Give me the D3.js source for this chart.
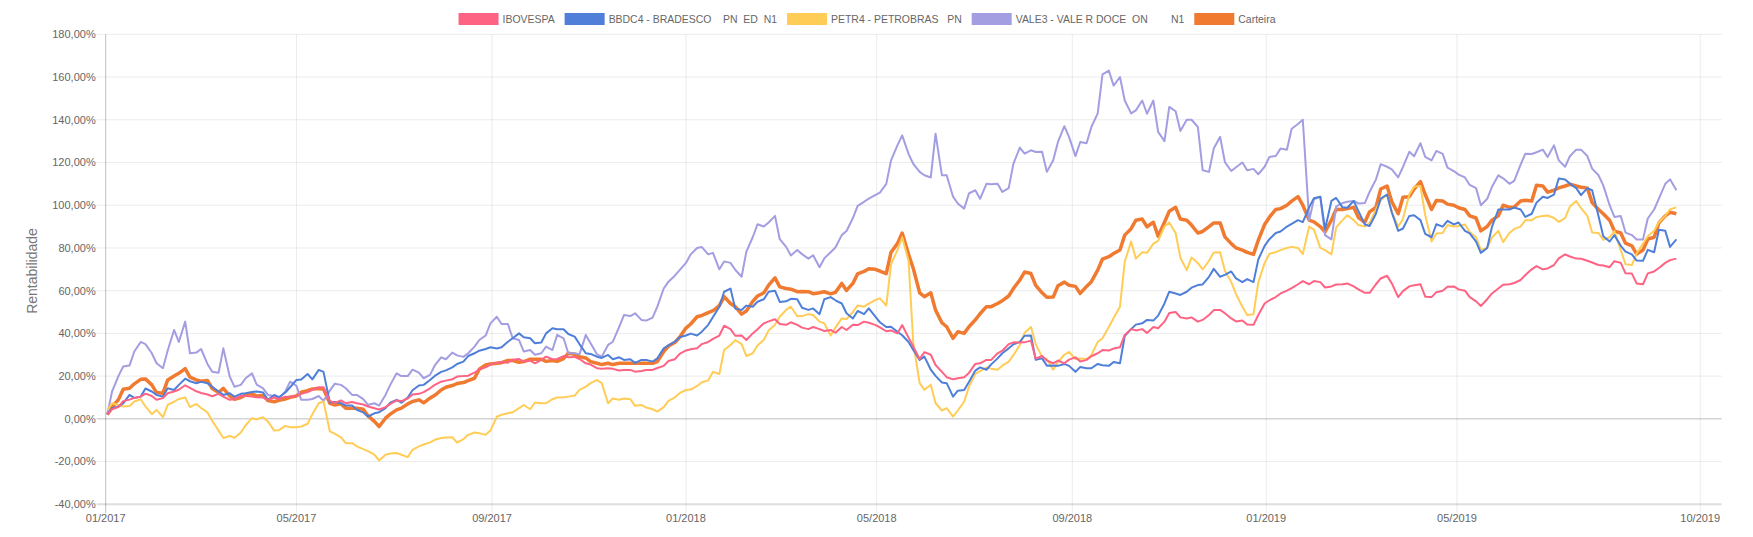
<!DOCTYPE html>
<html>
<head>
<meta charset="utf-8">
<script src="https://cdn.jsdelivr.net/npm/d3@7"></script>
<style>
  body { margin: 0; background: #fff; }
  text { font-family: "Helvetica Neue", Helvetica, Arial, "Liberation Sans", sans-serif; }
</style>
</head>
<body>
<svg id="chart" width="1753" height="537"></svg>
<script>
// two readings per week: Mondays (first on 02/01/2017) and the Thursday after
var startDate = new Date(2017, 0, 2);

var seriesNames = ["IBOVESPA", "BBDC4 - BRADESCO    PN  ED  N1", "PETR4 - PETROBRAS   PN", "VALE3 - VALE R DOCE  ON        N1", "Carteira"];
var seriesColors = ["#ff6384", "#4f7fd9", "#ffcd56", "#a39ee2", "#ef7a30"];

var ibovespaMon = [2,5.5,9,10.4,10.7,9.7,12.8,15.7,12.9,11.4,11.7,8.9,10.7,10.4,10,10,10.4,10.7,12.5,14.8,
  8.4,8.6,7.9,6.7,5,5.5,8.6,9.5,11.7,14.3,17.4,18.5,20,21.6,24.1,26.3,26.3,28,27.3,27.6,
  27.9,29.4,29,26,23.7,23.7,22.6,22.9,22.4,22.9,24.8,27.9,32,33,36,39,42,39,40,44.7,
  46.6,44,44,42,42,41.6,43,44,45.5,44,41,40,38,28,30,22,18.5,19.5,25.7,27.6,
  30.7,35,35.7,36.6,29.4,26,26,28.8,27.6,30.7,32,33.5,42,42,43,45.5,50,47,45.5,48.6,
  51,47,46,44,54,57,60,63,63,64,62,63,62,59,63,67,57,62,63,57,
  60,62,60,55,56,61,63,65,70,70,72,77,75,74,72,71,73,68,63,69,73,75];
var ibovespaThu = [4.5,8.3,9.8,11.8,8.9,12,13.6,14.5,12.1,10.6,10.4,9.3,10.7,10.1,8.9,9.3,10.3,11.7,13.6,14.8,
  7.5,7.3,7.3,5.8,4.4,7,8.3,11.4,12.5,15.9,17.9,19.8,20.2,23.2,25.4,26.6,27.7,26.8,26,29.1,
  28,28.8,28,25.4,23.4,23.4,22.9,22.1,22.9,23.8,27.1,30.4,
  32.6,35,37.4,43.6,38.9,36.9,41.9,45.6,44.4,45.2,42.7,43,41.1,40.3,41.6,43.9,45,42.8,41.4,43.9,
  33.8,31.2,25.2,19.5,19,21.5,26,27.6,31.9,35.8,35.8,28.2,27.3,27.3,27.7,26.8,29.3,32.2,32.9,39.3,
  41.4,40.2,42.4,49.5,47.5,47.5,46.3,50.9,49.4,45.6,44.2,
  48.6,55.5,58.7,61.2,64.5,64.5,61.5,62.9,63.4,60.6,59,65.7,63.4,59.8,62.5,57.2,59.3,61.8,60.6,57,
  52.8,58.7,62.8,63.6,67.3,71.5,70.4,75.1,76,74.9,73.2,71.8,73.8,68.1,63.4,68.1,70.6,74.3];

var bbdc4Mon = [2,5.8,11.2,10.4,12.8,10.4,13.5,18.8,16.7,16.7,12.8,12,11.7,12.6,12.3,11.2,12.3,18.2,21,22.9,
  7.6,7.3,6.2,3,2.6,5,8.9,10,15.6,18.2,22,24.1,26.8,30.7,32.7,32.9,36.1,40,37.7,35.7,
  42.4,41.9,38.5,30.7,29.1,29.9,28.8,27.9,27.6,26.8,33,36.1,39,39,44,52.5,61,51,52.5,56,
  60,55,56,51,49,57,54,47,49,48,43,40.8,36,27.6,23,17,10.4,13.5,22.6,23,
  28.3,33,36,39,28.3,25,25.7,22,23.7,25.7,24.8,26,42,44.7,46,54,58.7,59.5,62.6,66.5,
  66.5,69,64,64,81,87,90,93,99,104,102,99,102,91,96,105,88,95,93,85,
  90,91,88,83,80,98,98,98,96,104,105,112,108,108,95,83,81,77,74,78,88,84];
var bbdc4Thu = [5,7.2,9.8,14.2,11.2,14.3,15.9,17.6,17.3,15,11.2,10.4,12,12.8,8.9,10.1,14.8,18.4,18.5,22,
  7.9,6.2,4.2,1.1,3.1,7.6,7.6,13.4,15.9,20.1,22.7,25.7,29.4,31.9,33.5,33.5,37.7,38.2,35.4,40,
  41.9,39.7,35,30.4,28.5,27.9,27.6,26.2,27.6,28.3,34.4,38.2,
  39.9,40.8,47.7,59.5,51.6,53,54.8,59.5,54.7,56.2,52,51.7,56,55.5,49.4,50.5,51.7,45.2,43.1,39.1,
  32.2,29.1,20.1,16.7,13.2,17.3,24.1,25.5,30.7,34.9,38.9,27.6,24.9,24.8,24.8,24.3,23.7,25.1,26.6,38.8,
  44.1,46.3,48.3,59.5,58,61.4,62.9,70.2,67.4,65.7,65.4,
  74.6,84.1,87.7,91.3,92.1,103.3,88.8,103.4,98.8,97.2,90.3,103.1,96.6,89.1,95.3,86.6,91.1,92.7,91.9,86.8,
  77.7,89.9,98,98.9,94.5,101.2,103.4,112.5,110.1,104.7,107,85.5,86,78.3,74.1,79.1,88.5,80.5];

var petr4Mon = [4,6.5,6,9.2,2.2,0.8,8,10,7,3,-5.5,-8,-6.4,0.3,0.8,-5.5,-3.3,-3.9,-2.3,7.3,
  -5.9,-8.7,-11.4,-14.2,-16.8,-16.8,-16,-17.9,-12.9,-11,-9,-8.6,-9.5,-6.4,-7.5,1,2.6,5,4.5,7.3,
  9.2,10.1,10.9,15.1,18.2,7.3,8.9,9.2,6.5,4.5,5.5,10,13.5,15.4,18,21,34.6,35,30.7,37,
  44,51,48,49,45.5,39,47,50,52.5,55.6,53,79,74,16.7,16,3.9,1,8,21,24,
  23,26.8,34.6,43,29,23,30,28,28,36,43,52.5,83,78,82,90,87,69.6,73,74,
  78,64,52.5,49,73,78,80,80,90,80,77,93,93,90,98,105,90,105,109,83,
  87,90,91,85,80,88,87,90,93,95,94,94,102,95,87,85,79,72,82,88,95,99];
var petr4Thu = [7.3,5.8,8.1,5.8,4.2,6.5,9.3,5.5,5.1,-0.9,-9,-8.9,-3,-0.2,-1.2,-5.3,-3.9,-3.6,2.2,8.1,
  -6.9,-11.4,-12.9,-15.1,-19.5,-16.2,-16.8,-14.5,-12,-9.8,-8.7,-11.1,-7.5,-6.7,-5.5,1.9,3.1,6.5,7.6,7.3,
  10,10.4,13.6,16.7,16.7,9.5,9.5,6.1,5.3,3.4,8.4,12,
  13.7,17.1,22,32.2,36.8,29.4,34.3,41.4,47.8,52.5,48.1,48.6,44.7,42.7,46.7,53.1,53.9,56.4,72.4,85,
  35.4,13.6,7.3,5,3.9,15.1,22.3,23.5,24.9,29.8,40.3,35,27.9,26.6,31.3,28.2,29.8,37.7,47.2,73.5,
  75,77.7,83.3,91.9,75.4,75.5,69.9,77.9,69.3,58.4,48.6,
  63.9,77.3,79,80.5,77.1,88.6,79,89.6,95.3,90.7,91.7,102.3,96.9,93.5,108.7,95.3,86.8,90.7,90.3,87.5,
  79.1,84.9,82.7,88.9,93,94.4,95.2,92.2,99.4,98.6,87.2,83.8,87.9,72.4,77.4,85.5,92,98.1];

var vale3Mon = [2,20,25,36,30.7,23.7,41.6,45.5,31,25.7,21.6,19.8,15.9,21.3,14.3,10.7,12.8,15.4,8.9,10.7,
  13.2,15.9,11.2,9.2,7.3,11.2,21.3,20,21.6,20.6,28.8,31,29,33.8,39,47.8,44.4,36.9,32.2,30.7,
  32.2,37.7,30.7,39.3,30.2,34.6,43.1,48.1,46.3,47.4,61,67,73,80,77,70,73,66.5,85,90,
  95,80.5,79,75,71,78,86,94,101.6,104.7,110,128,124,115.6,113,114,104,98.4,107,110,
  110,108,127,125.7,125,121,137,123,129,143,163,160,143,149,149,130,144,140,136.6,115.6,
  132,116,120,117,118,123,126,138,93,104,84,101,102,101,112,118,113,125,129,121,
  124,116,113,108,103,114,110,119,124,126,128,118,126,123,114,100,95,86,84,98,110,107];
var vale3Thu = [12.8,24.5,31.5,35,26,32,36,30.7,32.7,22,33,15,19,16,11.2,9.7,17.4,8.9,9.3,8.4,
  16.4,14.3,11.2,6.5,6.2,15.9,20,23,19,25,27.9,29.7,30.7,36.9,44.7,44.4,37.7,31.5,30,33.8,
  39.3,30.7,30.2,35.4,29.1,36.1,48.6,49.4,46,52.5,64.2,69.6,
  77,80.4,77.7,73.7,69.8,78.3,91.1,91.9,84.1,76.5,77.1,76.6,75.1,80.2,87.9,99.7,103.1,105.9,121,132.7,
  119.3,114,133.5,114,100.8,105.5,103,109.8,106.2,119.5,124.1,124.9,115.6,129.6,131.9,129.6,136.6,161.2,156,149,
  144.4,142.8,134.3,146,134.7,140,116.4,126.5,120.2,117.8,116.4,
  114.5,122.6,126.5,135.8,140,102.8,86,99.5,101.6,100.8,106.2,119.2,116.8,117.9,122.9,122.6,125.4,117.6,114.3,109.5,
  100,108.6,112.6,111.4,124.1,124.8,122.6,121,122.9,126,117.1,109.3,94.5,87.2,84,93.8,103.1,112.1];

var carteiraMon = [2,9,14.3,18.5,15.9,12,20,23.5,18.2,18,12.3,10.7,10,11.7,10.9,8,9.3,10.7,13.2,14.2,
  7.3,7,5,4.5,-1.2,0.3,4.2,7,8.9,9.7,13.5,15.6,17,19,25.2,26,27.3,26.5,27.9,27.9,
  27.3,28.2,30.2,28.5,26,26,26,26,26,26,31.5,35.7,42.5,47.8,49.7,53,54,49,55,59,
  66,61,59.5,59.5,59,58.5,63.4,63.4,69,70,68,82,77,59,59,45,37.7,40,46.3,52.5,
  54,57.5,65,68,59,57,64,62,62,69.6,75.9,79,89,93.5,92,92,99,93,87,90,
  91.7,82,79,77,91,98,100,104,93,90,93,98,99,92,99,109,96,104,111,98,
  102,100,98,94,90,95,99,102,102,109,107,109,109,108,98,93,87,81,79,85,95,96];
var carteiraThu = [5.5,13.9,16.4,18.7,12.3,18.2,21.3,19.5,17.6,14.2,14.3,9.2,11.2,10.7,8.6,8.7,10.1,12.5,14,13.9,
  6.5,5,5,1.4,-3.6,2.2,5,8.1,7.5,11,14.8,16.5,17.9,23.2,25.7,26.3,27.3,26.8,27.9,26.9,
  26.9,30.7,29.1,26.8,25.4,25.4,26,26,26,26.8,34.1,38.2,
  44.4,48.4,50.6,57.2,52.5,50.5,57.5,62.6,61.8,60.7,59.6,58.6,59.5,59.2,60.1,67.9,70.3,69.2,78,87,
  70.4,57.2,50.9,43.1,40.8,43.1,49.2,52.5,55.3,61,68.7,62.5,56.9,62.3,62.5,58.7,64.2,74.8,77.4,86,
  93,89.9,85.5,97.2,93.5,90.7,87.7,91.7,85.2,80,77.9,
  83.6,94.4,98.4,101.9,100,92.2,87.5,98.1,98.4,94.2,96.9,107.6,101.6,103.7,107.6,105,102.2,100.5,98.8,95,
  88,93,100,99.2,102.3,109.3,106.1,108.1,109.8,108.4,101.2,96,87.9,82.2,77.1,84.1,91.7,96.7];

var xTickDates = ["2017-01-01","2017-05-01","2017-09-01","2018-01-01","2018-05-01","2018-09-01","2019-01-01","2019-05-01","2019-10-01"];
var yTicks = [-40,-20,0,20,40,60,80,100,120,140,160,180];

var svg = d3.select("#chart");
var plotLeft = 105.7, plotRight = 1721.7, plotTop = 34.3, plotBottom = 504.3;

var x = d3.scaleTime()
    .domain([new Date(2017, 0, 1), new Date(2019, 9, 14, 12)])
    .range([plotLeft, plotRight]);
var y = d3.scaleLinear().domain([-40, 180]).range([plotBottom, plotTop]);

var parseDay = d3.timeParse("%Y-%m-%d");
var tickDates = xTickDates.map(parseDay);
var fmtPct = function (v) { return d3.format(".2f")(v).replace(".", ",").replace("−", "-") + "%"; };

// merge the monday and thursday readings into one dated list
function toPoints(mon, thu) {
  var pts = [];
  mon.forEach(function (v, i) {
    var monday = d3.timeDay.offset(startDate, i * 7);
    pts.push({ date: monday, value: v });
    if (i < thu.length) pts.push({ date: d3.timeDay.offset(monday, 3), value: thu[i] });
  });
  return pts;
}

// horizontal grid
svg.append("g").selectAll("line")
    .data(yTicks)
    .enter().append("line")
    .attr("x1", plotLeft - 9).attr("x2", plotRight)
    .attr("y1", function (d) { return y(d); })
    .attr("y2", function (d) { return y(d); })
    .attr("stroke", function (d) { return d === 0 ? "rgba(0,0,0,0.25)" : (d === -40 ? "rgba(0,0,0,0.13)" : "rgba(0,0,0,0.08)"); })
    .attr("stroke-width", function (d) { return d === -40 ? 2 : 1; });

// vertical grid
svg.append("g").selectAll("line")
    .data(tickDates)
    .enter().append("line")
    .attr("x1", function (d) { return x(d); })
    .attr("x2", function (d) { return x(d); })
    .attr("y1", plotTop).attr("y2", plotBottom + 9)
    .attr("stroke", function (d, i) { return i === 0 ? "rgba(0,0,0,0.25)" : "rgba(0,0,0,0.08)"; });

// y labels
svg.append("g").selectAll("text")
    .data(yTicks)
    .enter().append("text")
    .attr("x", plotLeft - 10)
    .attr("y", function (d) { return y(d); })
    .attr("dy", "0.35em")
    .attr("text-anchor", "end")
    .attr("font-size", 11)
    .attr("fill", "#666")
    .text(fmtPct);

// x labels
svg.append("g").selectAll("text")
    .data(tickDates)
    .enter().append("text")
    .attr("x", function (d) { return x(d); })
    .attr("y", 518)
    .attr("dy", "0.35em")
    .attr("text-anchor", "middle")
    .attr("font-size", 11)
    .attr("fill", "#666")
    .text(d3.timeFormat("%m/%Y"));

svg.append("text")
    .attr("transform", "translate(32,271) rotate(-90)")
    .attr("text-anchor", "middle")
    .attr("dy", "0.35em")
    .attr("font-size", 14)
    .attr("fill", "#777")
    .text("Rentabilidade");

// lines (chart.js paints the first dataset last)
var allSeries = [
  toPoints(ibovespaMon, ibovespaThu),
  toPoints(bbdc4Mon, bbdc4Thu),
  toPoints(petr4Mon, petr4Thu),
  toPoints(vale3Mon, vale3Thu),
  toPoints(carteiraMon, carteiraThu)
];
var line = d3.line()
    .x(function (d) { return x(d.date); })
    .y(function (d) { return y(d.value); });

for (var s = allSeries.length - 1; s >= 0; s--) {
  svg.append("path")
      .datum(allSeries[s])
      .attr("fill", "none")
      .attr("stroke", seriesColors[s])
      .attr("stroke-width", s === 4 ? 3.5 : 2)
      .attr("stroke-linejoin", "round")
      .attr("d", line);
}

// legend
var legend = svg.append("g");
var lx = 0;
seriesNames.forEach(function (name, i) {
  var item = legend.append("g").attr("transform", "translate(" + lx + ",0)");
  item.append("rect")
      .attr("x", 0).attr("y", 13)
      .attr("width", 40).attr("height", 12)
      .attr("fill", seriesColors[i]);
  var t = item.append("text")
      .attr("x", 44).attr("y", 19.5)
      .attr("dy", "0.35em")
      .attr("font-size", 11)
      .attr("fill", "#666")
      .style("white-space", "pre")
      .text(name);
  var w = t.node().getComputedTextLength() * 0.95;
  t.attr("textLength", w).attr("lengthAdjust", "spacingAndGlyphs");
  lx += 44 + w + 10;
});
legend.attr("transform", "translate(" + (867 - (lx - 10) / 2) + ",0)");
</script>
</body>
</html>
